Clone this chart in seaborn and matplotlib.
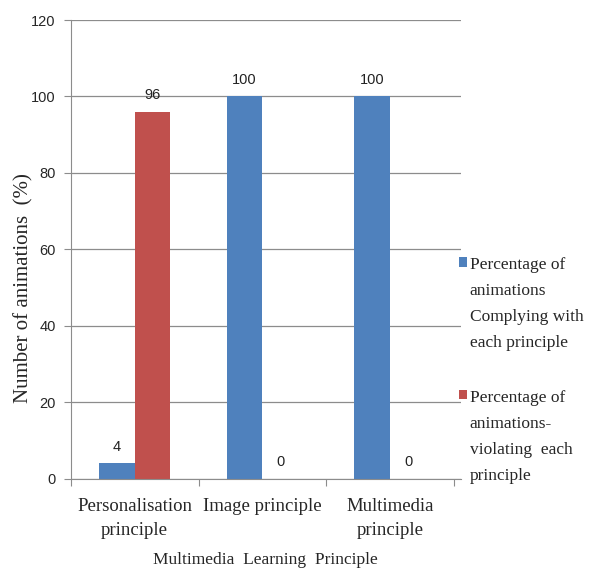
import numpy as np
import pandas as pd
import matplotlib
matplotlib.use('Agg')
import matplotlib.pyplot as plt
import seaborn as sns

# chart values
principles = ['Personalisation\nprinciple', 'Image principle', 'Multimedia\nprinciple']
complying = [4, 100, 100]
violating = [96, 0, 0]
series = ['Percentage of\nanimations\nComplying with\neach principle',
          'Percentage of\nanimations-\nviolating  each\nprinciple']
yticks = [0, 20, 40, 60, 80, 100, 120]

df = pd.DataFrame({
    'principle': principles * 2,
    'value': complying + violating,
    'series': [series[0]] * 3 + [series[1]] * 3,
})

sns.set_style('white')
serif = ['Liberation Serif', 'DejaVu Serif']
sans = ['Liberation Sans', 'DejaVu Sans']

fig = plt.figure(figsize=(5.95, 5.72), dpi=100)
ax = fig.add_axes([0.119, 0.163, 0.655, 0.802])

sns.barplot(data=df, x='principle', y='value', hue='series',
            palette=['#4F81BD', '#C0504D'], width=0.56, gap=0,
            saturation=1, linewidth=0, edgecolor='none', ax=ax)

for c in ax.containers:
    ax.bar_label(c, padding=7, fontsize=10.5, family=sans, color='#222222')

ax.set_ylim(0, 120)
ax.set_xlim(-0.5, 2.55)
ax.set_yticks(yticks)
ax.set_yticklabels([str(v) for v in yticks], family=sans, fontsize=10.5)
ax.yaxis.grid(True, color='#8c8c8c', linewidth=0.9)
ax.set_axisbelow(True)

# category boundary ticks, labels at centers
ax.set_xticks([-0.5, 0.5, 1.5, 2.5])
ax.set_xticklabels([])
ax.set_xticks([0, 1, 2], minor=True)
ax.set_xticklabels(principles, minor=True, family=serif, fontsize=13.5, linespacing=1.5)
ax.tick_params(axis='x', which='major', length=5, color='#8c8c8c', direction='out', bottom=True)
ax.tick_params(axis='x', which='minor', length=0, pad=14)
ax.tick_params(axis='y', length=5, color='#8c8c8c', direction='out', left=True, pad=6)

for s in ['top', 'right']:
    ax.spines[s].set_visible(False)
for s in ['left', 'bottom']:
    ax.spines[s].set_color('#8c8c8c')

ax.set_xlabel('Multimedia  Learning  Principle', family=serif, fontsize=12.5)
ax.xaxis.set_label_coords(0.5, -0.16)
ax.set_ylabel('Number of animations  (%)', family=serif, fontsize=15)
ax.yaxis.set_label_coords(-0.097, 0.416)

leg = ax.legend(loc='upper left', bbox_to_anchor=(0.995, 0.484), frameon=False,
                borderaxespad=0, borderpad=0,
                handlelength=0.5, handleheight=0.5, handletextpad=0.15,
                labelspacing=2.2, prop={'family': serif, 'size': 12.5})
for t in leg.get_texts():
    t.set_linespacing(1.85)
# put the colour square on the first line of each entry
for col in leg._legend_handle_box.get_children():
    for item in col.get_children():
        item.align = 'top'

fig.savefig('out.png', dpi=100)
